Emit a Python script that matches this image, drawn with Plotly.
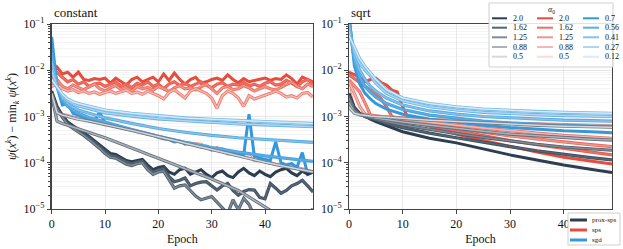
import numpy as np
import plotly.graph_objects as go

W, H = 623, 249

# ---------------- labels ----------------
ALPHA_LABELS_SPS = ["2.0", "1.62", "1.25", "0.88", "0.5"]
ALPHA_LABELS_SGD = ["0.7", "0.56", "0.41", "0.27", "0.12"]
METHOD_LABELS = ["prox-sps", "sps", "sgd"]
PANEL_TITLES = ["constant", "sqrt"]
X_TICKS = [0, 10, 20, 30, 40]
Y_TICK_EXP = [-5, -4, -3, -2, -1]

EPOCHS_ALL = list(range(50))
EPOCHS_SMOOTH = [0, 1, 2, 3, 4, 5, 7, 10, 15, 20, 25, 30, 35, 40, 45, 49]

# ---------------- data: log10 of psi(x^k) - min psi ----------------
# constant step (left panel)
const_prox_20 = [-2.45, -2.78, -2.98, -3.12, -3.2, -3.27, -3.35, -3.43, -3.52, -3.62,
                 -3.72, -3.8, -3.82, -3.88, -3.95, -3.98, -3.95, -3.93, -4.05, -4.15,
                 -4.1, -4.08, -4.2, -4.25, -4.15, -4.12, -4.25, -4.2, -4.15, -4.25,
                 -4.32, -4.22, -4.18, -4.28, -4.32, -4.2, -4.12, -4.22, -4.28, -4.18,
                 -4.25, -4.3, -4.2, -4.15, -4.12, -4.22, -4.28, -4.18, -4.25, -4.2]
const_prox_162 = [-2.5, -2.8, -3.0, -3.15, -3.23, -3.3, -3.38, -3.46, -3.55, -3.65,
                  -3.76, -3.84, -3.86, -3.92, -3.98, -4.02, -3.98, -3.96, -4.1, -4.2,
                  -4.15, -4.12, -4.3, -4.41, -4.38, -4.33, -4.5, -4.45, -4.42, -4.41,
                  -4.5, -4.59, -4.5, -4.45, -4.6, -4.7, -4.62, -4.58, -4.59, -4.75,
                  -4.78, -4.45, -4.55, -4.66, -4.6, -4.5, -4.45, -4.38, -4.5, -4.63]
const_prox_125 = [-2.55, -2.83, -3.02, -3.17, -3.26, -3.33, -3.41, -3.5, -3.59, -3.69,
                  -3.8, -3.88, -3.9, -3.96, -4.03, -4.06, -4.02, -4.0, -4.15, -4.25,
                  -4.2, -4.18, -4.38, -4.55, -4.5, -4.48, -4.6, -4.72, -4.8, -4.76,
                  -4.73, -4.85, -4.98, -5.1, -4.8, -5.02, -4.77, -4.9, -5.15, -5.2,
                  -5.25, -5.3, -5.2, -5.3, -5.25, -5.35, -5.3, -5.2, -5.1, -5.0]
const_prox_088 = [-2.55, -3.1, -3.15, -3.19, -3.22, -3.26, -3.34, -3.46, -3.68, -3.9,
                  -4.12, -4.35, -4.6, -4.95, -5.3, -5.6]
const_prox_05 = [-2.5, -2.92, -2.97, -3.0, -3.03, -3.06, -3.1, -3.17, -3.3, -3.44,
                 -3.58, -3.72, -3.86, -3.99, -4.11, -4.2]

const_sps_20 = [-2.15, -1.93, -2.08, -2.04, -2.15, -2.04, -2.2, -2.22, -2.18, -2.2,
                -2.17, -2.28, -2.17, -2.25, -2.32, -2.2, -2.15, -2.25, -2.2, -2.15,
                -2.25, -2.08, -2.22, -2.06, -2.2, -2.3, -2.2, -2.15, -2.28, -2.25,
                -2.2, -2.17, -2.22, -2.1, -2.2, -2.27, -2.18, -2.25, -2.22, -2.2,
                -2.17, -2.22, -2.18, -2.2, -2.1, -2.18, -2.3, -2.15, -2.2, -2.25]
const_sps_162 = [-2.2, -2.05, -2.15, -2.25, -2.2, -2.3, -2.25, -2.35, -2.3, -2.28,
                 -2.35, -2.3, -2.25, -2.35, -2.3, -2.38, -2.28, -2.32, -2.25, -2.35,
                 -2.3, -2.4, -2.3, -2.25, -2.33, -2.28, -2.35, -2.3, -2.25, -2.32,
                 -2.38, -2.3, -2.27, -2.35, -2.3, -2.32, -2.26, -2.34, -2.3, -2.35,
                 -2.28, -2.25, -2.32, -2.3, -2.22, -2.28, -2.35, -2.25, -2.2, -2.3]
const_sps_125 = [-2.3, -2.2, -2.35, -2.4, -2.32, -2.38, -2.42, -2.36, -2.3, -2.4,
                 -2.45, -2.38, -2.33, -2.42, -2.38, -2.45, -2.35, -2.4, -2.37, -2.43,
                 -2.35, -2.4, -2.46, -2.38, -2.33, -2.4, -2.38, -2.42, -2.35, -2.3,
                 -2.4, -2.5, -2.38, -2.35, -2.42, -2.4, -2.33, -2.38, -2.45, -2.4,
                 -2.35, -2.4, -2.43, -2.37, -2.3, -2.25, -2.35, -2.4, -2.3, -2.35]
const_sps_088 = [-2.35, -2.3, -2.4, -2.45, -2.42, -2.48, -2.45, -2.5, -2.47, -2.52,
                 -2.48, -2.45, -2.5, -2.47, -2.43, -2.5, -2.47, -2.52, -2.45, -2.5,
                 -2.55, -2.62, -2.48, -2.42, -2.5, -2.6, -2.45, -2.4, -2.45, -2.5,
                 -2.6, -2.82, -2.55, -2.45, -2.5, -2.6, -2.78, -2.55, -2.62, -2.58,
                 -2.55, -2.5, -2.45, -2.5, -2.58, -2.55, -2.6, -2.5, -2.48, -2.58]
const_sps_05_x = [0, 1, 2, 3, 4, 5, 7, 10, 15, 20, 25, 28, 30, 31, 33, 35, 37, 38, 40, 42, 45, 49]
const_sps_05 = [-2.5, -2.9, -2.95, -2.98, -3.01, -3.04, -3.08, -3.15, -3.29, -3.43, -3.57,
                -3.6, -3.73, -3.67, -3.81, -3.8, -3.85, -3.95, -3.96, -4.04, -4.07, -4.2]

const_sgd_07 = [-1.28, -2.36, -2.75, -2.72, -2.93, -2.98, -3.02, -3.06, -3.1, -2.9,
                -3.15, -3.18, -3.21, -3.24, -3.27, -3.3, -3.33, -3.35, -3.38, -3.4,
                -3.45, -3.48, -3.5, -3.55, -3.53, -3.6, -3.58, -3.63, -3.66, -3.64,
                -3.7, -3.72, -3.7, -3.76, -3.78, -3.8, -3.83, -2.95, -3.86, -3.9,
                -3.92, -3.95, -3.55, -4.0, -4.05, -4.02, -4.1, -3.78, -4.25, -4.2]
const_sgd_056 = [-1.6, -2.35, -2.65, -2.78, -2.87, -2.93, -3.02, -3.12, -3.28, -3.43,
                 -3.56, -3.67, -3.77, -3.85, -3.92, -3.97]
const_sgd_041 = [-1.8, -2.35, -2.6, -2.72, -2.8, -2.86, -2.93, -3.03, -3.15, -3.26,
                 -3.34, -3.41, -3.46, -3.5, -3.53, -3.56]
const_sgd_027 = [-2.0, -2.35, -2.56, -2.66, -2.72, -2.77, -2.83, -2.92, -2.99, -3.05,
                 -3.09, -3.13, -3.16, -3.18, -3.2, -3.22]
const_sgd_012 = [-2.2, -2.35, -2.52, -2.62, -2.68, -2.72, -2.78, -2.86, -2.93, -2.98,
                 -3.03, -3.06, -3.09, -3.11, -3.13, -3.15]

# sqrt step (right panel)
sqrt_prox_20 = [-2.5, -2.8, -2.93, -3.0, -3.06, -3.11, -3.2, -3.33, -3.47, -3.57,
                -3.7, -3.83, -3.94, -4.05, -4.14, -4.21]
sqrt_prox_162 = [-2.55, -2.83, -2.94, -3.0, -3.04, -3.08, -3.15, -3.24, -3.36, -3.46,
                 -3.56, -3.65, -3.74, -3.82, -3.89, -3.94]
sqrt_prox_125 = [-2.6, -2.86, -2.95, -3.0, -3.03, -3.06, -3.11, -3.18, -3.28, -3.37,
                 -3.45, -3.53, -3.6, -3.66, -3.7, -3.73]
sqrt_prox_088 = [-2.7, -2.9, -2.96, -2.99, -3.01, -3.03, -3.07, -3.12, -3.19, -3.26,
                 -3.32, -3.38, -3.42, -3.46, -3.49, -3.51]
sqrt_prox_05 = [-2.8, -2.93, -2.96, -2.98, -2.99, -3.0, -3.02, -3.04, -3.08, -3.11,
                -3.14, -3.17, -3.19, -3.21, -3.22, -3.23]

sqrt_sps_20_x = [0, 1, 2, 3, 4, 5, 6, 7, 8, 9, 10, 11, 12, 15, 20, 25, 30, 35, 40, 45, 49]
sqrt_sps_20 = [-2.04, -2.1, -2.15, -2.25, -2.2, -2.17, -2.27, -2.32, -2.43, -2.47, -2.79,
               -3.03, -3.1, -3.2, -3.38, -3.52, -3.65, -3.77, -3.88, -3.97, -4.03]
sqrt_sps_162_x = [0, 1, 2, 3, 4, 5, 6, 7, 8, 10, 15, 20, 25, 30, 35, 40, 45, 49]
sqrt_sps_162 = [-2.1, -2.18, -2.26, -2.34, -2.42, -2.52, -2.62, -2.79, -3.0, -3.08,
                -3.2, -3.31, -3.42, -3.52, -3.61, -3.69, -3.77, -3.83]
sqrt_sps_125 = [-2.21, -2.33, -2.47, -2.71, -2.97, -3.0, -3.04, -3.09, -3.17, -3.26,
                -3.34, -3.42, -3.49, -3.55, -3.61, -3.65]
sqrt_sps_088 = [-2.26, -2.5, -2.78, -2.95, -2.97, -2.99, -3.02, -3.06, -3.13, -3.19,
                -3.25, -3.31, -3.36, -3.41, -3.45, -3.47]
sqrt_sps_05 = [-2.4, -2.85, -2.95, -2.97, -2.98, -2.99, -3.01, -3.03, -3.06, -3.09,
               -3.12, -3.14, -3.16, -3.18, -3.19, -3.2]

sqrt_sgd_07 = [-0.8, -1.9, -2.3, -2.5, -2.62, -2.72, -2.84, -2.95, -3.06, -3.13,
               -3.19, -3.24, -3.28, -3.31, -3.33, -3.35]
sqrt_sgd_056 = [-0.9, -1.8, -2.15, -2.35, -2.48, -2.58, -2.72, -2.85, -2.97, -3.04,
                -3.1, -3.14, -3.17, -3.19, -3.21, -3.22]
sqrt_sgd_041 = [-1.0, -1.7, -2.0, -2.2, -2.35, -2.45, -2.6, -2.75, -2.88, -2.95,
                -3.0, -3.03, -3.06, -3.08, -3.09, -3.1]
sqrt_sgd_027 = [-1.15, -1.6, -1.85, -2.0, -2.12, -2.28, -2.5, -2.66, -2.79, -2.86,
                -2.91, -2.94, -2.96, -2.98, -2.99, -3.0]
sqrt_sgd_012 = [-1.25, -1.5, -1.75, -1.92, -2.05, -2.2, -2.42, -2.6, -2.72, -2.79,
                -2.84, -2.87, -2.89, -2.91, -2.92, -2.93]

# ---------------- styles ----------------
PROX_COLORS = ["#2c3e50", "#566573", "#808b96", "#abb2b9", "#d5d8dc"]
SPS_COLORS = ["#e74c3c", "#ec7063", "#f1948a", "#f5b7b1", "#fadbd8"]
SGD_COLORS = ["#3498db", "#5dade2", "#85c1e9", "#aed6f1", "#d6eaf8"]
FONT = "'Liberation Serif', 'DejaVu Serif', serif"


def hex2rgb(h):
    h = h.lstrip("#")
    return tuple(int(h[i:i + 2], 16) for i in (0, 2, 4))


def blend(c1, c2, t):
    a, b = hex2rgb(c1), hex2rgb(c2)
    return "rgb(%d,%d,%d)" % tuple(round(a[i] * (1 - t) + b[i] * t) for i in range(3))


panels = [
    {  # constant
        "sps": [(EPOCHS_ALL, const_sps_20), (EPOCHS_ALL, const_sps_162), (EPOCHS_ALL, const_sps_125),
                (EPOCHS_ALL, const_sps_088), (const_sps_05_x, const_sps_05)],
        "sgd": [(EPOCHS_ALL, const_sgd_07), (EPOCHS_SMOOTH, const_sgd_056), (EPOCHS_SMOOTH, const_sgd_041),
                (EPOCHS_SMOOTH, const_sgd_027), (EPOCHS_SMOOTH, const_sgd_012)],
        "prox": [(EPOCHS_ALL, const_prox_20), (EPOCHS_ALL, const_prox_162), (EPOCHS_ALL, const_prox_125),
                 (EPOCHS_SMOOTH, const_prox_088), (EPOCHS_SMOOTH, const_prox_05)],
    },
    {  # sqrt
        "sps": [(sqrt_sps_20_x, sqrt_sps_20), (sqrt_sps_162_x, sqrt_sps_162), (EPOCHS_SMOOTH, sqrt_sps_125),
                (EPOCHS_SMOOTH, sqrt_sps_088), (EPOCHS_SMOOTH, sqrt_sps_05)],
        "sgd": [(EPOCHS_SMOOTH, sqrt_sgd_07), (EPOCHS_SMOOTH, sqrt_sgd_056), (EPOCHS_SMOOTH, sqrt_sgd_041),
                (EPOCHS_SMOOTH, sqrt_sgd_027), (EPOCHS_SMOOTH, sqrt_sgd_012)],
        "prox": [(EPOCHS_SMOOTH, sqrt_prox_20), (EPOCHS_SMOOTH, sqrt_prox_162), (EPOCHS_SMOOTH, sqrt_prox_125),
                 (EPOCHS_SMOOTH, sqrt_prox_088), (EPOCHS_SMOOTH, sqrt_prox_05)],
    },
]
method_colors = {"prox": PROX_COLORS, "sps": SPS_COLORS, "sgd": SGD_COLORS}
method_names = {"prox": "prox-sps", "sps": "sps", "sgd": "sgd"}
method_alpha = {"prox": ALPHA_LABELS_SPS, "sps": ALPHA_LABELS_SPS, "sgd": ALPHA_LABELS_SGD}

fig = go.Figure()
for pi, panel in enumerate(panels):
    xa = "x" if pi == 0 else "x2"
    ya = "y" if pi == 0 else "y2"
    for m in ["sps", "sgd", "prox"]:
        cols = method_colors[m]
        for si, (xs, ly) in enumerate(panel[m]):
            yv = np.power(10.0, np.array(ly, dtype=float))
            name = f"{method_names[m]} α0={method_alpha[m][si]}"
            if si == 0:
                fig.add_trace(go.Scatter(x=xs, y=yv, mode="lines", name=name,
                                         line=dict(color=cols[0], width=3.0),
                                         xaxis=xa, yaxis=ya, showlegend=False))
            else:
                fig.add_trace(go.Scatter(x=xs, y=yv, mode="lines", name=name + " edge",
                                         line=dict(color=blend(cols[si], cols[0], 0.6), width=3.2),
                                         xaxis=xa, yaxis=ya, showlegend=False, hoverinfo="skip"))
                fig.add_trace(go.Scatter(x=xs, y=yv, mode="lines", name=name,
                                         line=dict(color=cols[si], width=1.5),
                                         xaxis=xa, yaxis=ya, showlegend=False))


def px_x(p):
    return p / W


def px_y(p):
    return 1 - p / H


X_DOMS = [[px_x(51.7), px_x(313)], [px_x(349), px_x(612)]]
Y_DOM = [px_y(209), px_y(24)]

ytickvals = [10.0 ** e for e in Y_TICK_EXP]
yticktext = [f"10<sup>−{-e}</sup>" for e in Y_TICK_EXP]

axis_common = dict(showline=True, mirror=True, linecolor="#444", linewidth=1.3,
                   ticks="outside", ticklen=3.5, tickcolor="#444", tickwidth=1,
                   showgrid=True, gridcolor="#e3e3e3", gridwidth=0.8, zeroline=False,
                   automargin=False,
                   tickfont=dict(family=FONT, size=12, color="#111"))

layout_axes = {}
for pi in range(2):
    sx = "" if pi == 0 else "2"
    layout_axes["xaxis" + sx] = dict(axis_common, domain=X_DOMS[pi], range=[0, 49],
                                     tickvals=X_TICKS, anchor="y" + sx,
                                     title=dict(text="Epoch", font=dict(family=FONT, size=12, color="#111"),
                                                standoff=4))
    layout_axes["yaxis" + sx] = dict(axis_common, domain=Y_DOM, type="log", range=[-5, -1],
                                     tickmode="array", tickvals=ytickvals, ticktext=yticktext,
                                     anchor="x" + sx,
                                     minor=dict(dtick="D1", showgrid=True, gridcolor="#f0f0f0",
                                                gridwidth=0.7, ticks="outside", ticklen=2,
                                                tickcolor="#444"))
layout_axes["yaxis"]["title"] = dict(
    text="<i>ψ</i>(<i>x</i><sup><i>k</i></sup>) − min<sub><i>k</i></sub> <i>ψ</i>(<i>x</i><sup><i>k</i></sup>)",
    font=dict(family=FONT, size=12, color="#111"), standoff=4)

annotations = []
shapes = []
for pi, t in enumerate(PANEL_TITLES):
    annotations.append(dict(text=t, xref="paper", yref="paper", x=X_DOMS[pi][0], y=px_y(22),
                            xanchor="left", yanchor="bottom", showarrow=False,
                            font=dict(family=FONT, size=13, color="#111")))

# alpha legend (three columns)
shapes.append(dict(type="rect", xref="paper", yref="paper", x0=px_x(489), x1=px_x(613),
                   y0=px_y(67), y1=px_y(3), fillcolor="rgba(255,255,255,0.85)",
                   line=dict(color="#cfcfcf", width=1), layer="above"))
annotations.append(dict(text="<i>α</i><sub>0</sub>", xref="paper", yref="paper", x=px_x(551), y=px_y(10),
                        xanchor="center", yanchor="middle", showarrow=False,
                        font=dict(family=FONT, size=8, color="#111")))
row_y = [18.3, 27.7, 37.3, 47.0, 56.7]
col_line = [(492, 507), (537, 553), (583, 599)]
col_text = [511, 557, 603]
col_sets = [(PROX_COLORS, ALPHA_LABELS_SPS), (SPS_COLORS, ALPHA_LABELS_SPS), (SGD_COLORS, ALPHA_LABELS_SGD)]
for ci, (cols, labs) in enumerate(col_sets):
    for ri in range(5):
        shapes.append(dict(type="line", xref="paper", yref="paper",
                           x0=px_x(col_line[ci][0]), x1=px_x(col_line[ci][1]),
                           y0=px_y(row_y[ri]), y1=px_y(row_y[ri]),
                           line=dict(color=cols[ri], width=2), layer="above"))
        annotations.append(dict(text=labs[ri], xref="paper", yref="paper", x=px_x(col_text[ci]),
                                y=px_y(row_y[ri]), xanchor="left", yanchor="middle", showarrow=False,
                                font=dict(family=FONT, size=8, color="#111")))

# method legend
shapes.append(dict(type="rect", xref="paper", yref="paper", x0=px_x(568), x1=px_x(620),
                   y0=px_y(245), y1=px_y(213), fillcolor="rgba(255,255,255,0.9)",
                   line=dict(color="#cfcfcf", width=1), layer="above"))
meth_rows = [220, 230, 240]
meth_cols = [PROX_COLORS[0], SPS_COLORS[0], SGD_COLORS[0]]
for ri, lab in enumerate(METHOD_LABELS):
    shapes.append(dict(type="line", xref="paper", yref="paper", x0=px_x(570), x1=px_x(587),
                       y0=px_y(meth_rows[ri]), y1=px_y(meth_rows[ri]),
                       line=dict(color=meth_cols[ri], width=3), layer="above"))
    annotations.append(dict(text=lab, xref="paper", yref="paper", x=px_x(590), y=px_y(meth_rows[ri]),
                            xanchor="left", yanchor="middle", showarrow=False,
                            font=dict(family=FONT, size=7, color="#111")))

fig.update_layout(width=W, height=H, margin=dict(l=0, r=0, t=0, b=0, autoexpand=False),
                  paper_bgcolor="white", plot_bgcolor="white", showlegend=False,
                  font=dict(family=FONT, size=12, color="#111"),
                  annotations=annotations, shapes=shapes, **layout_axes)

fig.write_html("out.html",
               config={"displayModeBar": False, "staticPlot": True},
               post_script="document.body.style.margin='0';document.body.style.overflow='hidden';")
